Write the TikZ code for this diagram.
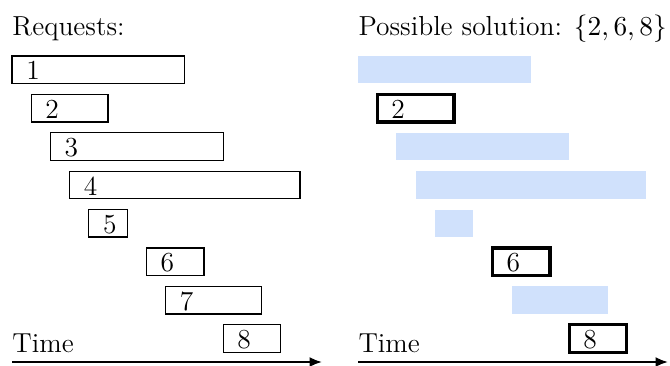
\documentclass[tikz,border=0pt]{standalone}
\usetikzlibrary{arrows.meta,calc}
\definecolor{lightsel}{RGB}{208,225,252}
\newcommand{\picfont}{\fontsize{11}{13}\selectfont}
\tikzset{
  req/.style={draw=black, line width=0.5pt, anchor=north west, minimum height=27.5*0.4pt, inner sep=0pt, outer sep=0pt},
  chosen/.style={draw=black, line width=1.3pt, anchor=north west, minimum height=27.5*0.4pt, inner sep=0pt, outer sep=0pt},
  other/.style={fill=lightsel, draw=none, anchor=north west, minimum height=27.5*0.4pt, inner sep=0pt, outer sep=0pt},
  num/.style={font=\picfont, inner sep=0pt, anchor=center},
  title/.style={font=\picfont, inner sep=0pt, anchor=base west},
  timeaxis/.style={line width=0.8pt, -{Latex[length=5pt,width=4pt]}}
}
\begin{document}
\begin{tikzpicture}[x=0.4pt,y=-0.4pt]
\useasboundingbox (0,0) rectangle (670,365);
% titles
\node[title] (tl) at (12,36) {Requests:};
\node[title] (tr) at (358,36) {Possible solution: $\{2,6,8\}$};
% left panel: all requests
\foreach \i/\s/\w in {1/0/9,2/1/4,3/2/9,4/3/12,5/4/2,6/7/3,7/8/5,8/11/3}{
  \node[req, minimum width=\w*19.2*0.4pt] (r\i) at ({12+19.2*\s},{56+38.4*(\i-1)}) {};
  \node[num] (rl\i) at ($(r\i.west)+(21,1)$) {\i};
}
% right panel: not chosen
\foreach \i/\s/\w in {1/0/9,3/2/9,4/3/12,5/4/2,7/8/5}{
  \node[other, minimum width=\w*19.2*0.4pt] (s\i) at ({358+19.2*\s},{56+38.4*(\i-1)}) {};
}
% right panel: chosen
\foreach \i/\s/\w in {2/1/4,6/7/3,8/11/3}{
  \node[chosen, minimum width=\w*19.2*0.4pt] (s\i) at ({358+19.2*\s},{56+38.4*(\i-1)}) {};
  \node[num] (sl\i) at ($(s\i.west)+(21,1)$) {\i};
}
% time axes
\node[title] (timel) at (12,352) {Time};
\node[title] (timer) at (358,352) {Time};
\coordinate (al0) at (12,362);
\coordinate (al1) at (322,362);
\coordinate (ar0) at (358,362);
\coordinate (ar1) at (668,362);
\draw[timeaxis] (al0) -- (al1);
\draw[timeaxis] (ar0) -- (ar1);
\end{tikzpicture}
\end{document}
